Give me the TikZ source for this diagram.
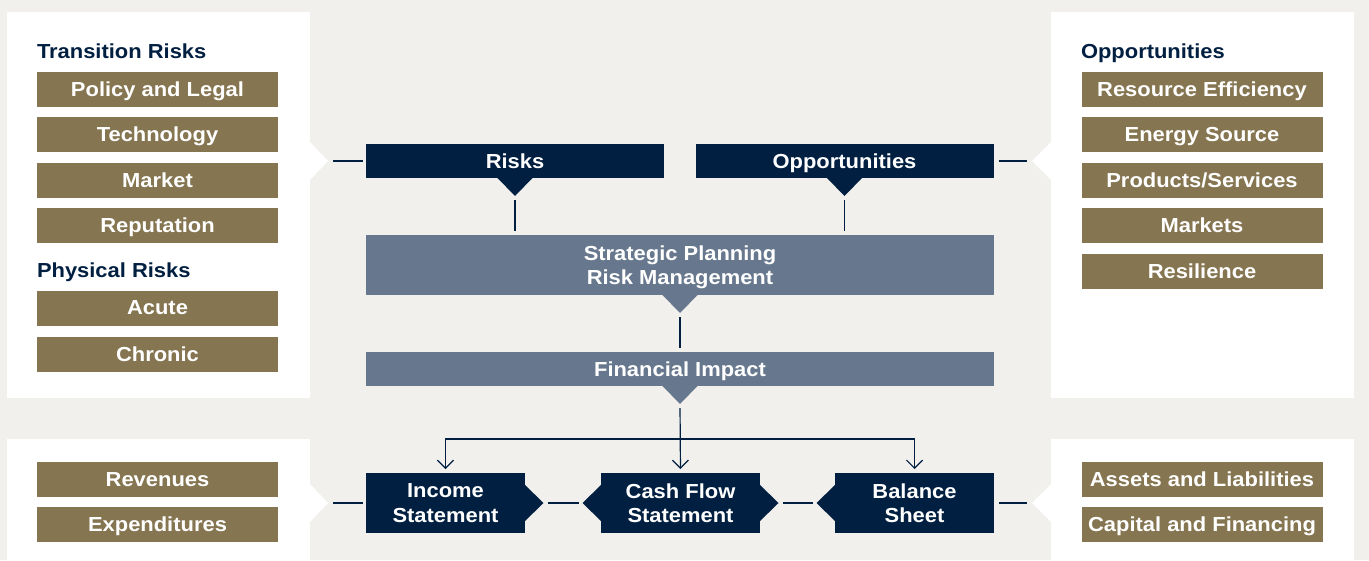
\documentclass[tikz,border=0pt]{standalone}
\usepackage{fontspec}
\newfontfamily\lblfont[FakeStretch=1.08]{Liberation Sans}
\usetikzlibrary{arrows.meta,calc}
\definecolor{paper}{HTML}{F1F0EC}
\definecolor{navy}{HTML}{001F41}
\definecolor{slate}{HTML}{67788E}
\definecolor{gold}{HTML}{857550}
\begin{document}
\begin{tikzpicture}[x=1pt,y=-1pt,
  every node/.style={inner sep=0pt, outer sep=0pt, text depth=0pt, align=center,
    font=\lblfont\bfseries\fontsize{20.3}{24.5}\selectfont},
  heading/.style={text=navy, anchor=base west},
  goldbox/.style={fill=gold, text=white, minimum width=241, minimum height=35},
  navybox/.style={fill=navy, text=white, minimum width=298, minimum height=34},
  slatebox/.style={fill=slate, text=white, minimum width=628},
  stmtbox/.style={fill=navy, text=white, minimum width=159, minimum height=60},
  conn/.style={draw=navy, line width=1.2},
  arr/.style={draw=navy, line width=1.2, -{Straight Barb[length=8pt,width=16pt]}},
]
% canvas and white panels
\fill[paper] (0,0) rectangle (1369,560);
\useasboundingbox (0,0) rectangle (1369,560);
\fill[white] (7,12) rectangle (310,398);
\fill[white] (310,142) -- (328,161) -- (310,180) -- cycle;
\fill[white] (1051,12) rectangle (1354,398);
\fill[white] (1051,142) -- (1032,161) -- (1051,180) -- cycle;
\fill[white] (7,439) rectangle (310,560);
\fill[white] (310,484) -- (328,503) -- (310,522) -- cycle;
\fill[white] (1051,439) rectangle (1354,560);
\fill[white] (1051,484) -- (1032,503) -- (1051,522) -- cycle;
\coordinate (tlTip) at (328,161);
\coordinate (trTip) at (1032,161);
\coordinate (blTip) at (328,503);
\coordinate (brTip) at (1032,503);

% left column: risk categories
\node[heading] (transHead) at (37,58) {Transition Risks};
\node[goldbox] (policy) at (157.5,89) {Policy and Legal};
\node[goldbox] (tech) at (157.5,134) {Technology};
\node[goldbox] (market) at (157.5,180) {Market};
\node[goldbox] (reput) at (157.5,225) {Reputation};
\node[heading] (physHead) at (37,277) {Physical Risks};
\node[goldbox] (acute) at (157.5,308) {Acute};
\node[goldbox] (chronic) at (157.5,354) {Chronic};

% right column: opportunity categories
\node[heading] (oppHead) at (1081,58) {Opportunities};
\node[goldbox] (resource) at (1202,89) {Resource Efficiency};
\node[goldbox] (energy) at (1202,134) {Energy Source};
\node[goldbox] (products) at (1202,180) {Products/Services};
\node[goldbox] (markets) at (1202,225) {Markets};
\node[goldbox] (resil) at (1202,271) {Resilience};

% bottom columns
\node[goldbox] (revenues) at (157.5,479.5) {Revenues};
\node[goldbox] (expend) at (157.5,524.5) {Expenditures};
\node[goldbox] (assets) at (1202,479.5) {Assets and Liabilities};
\node[goldbox] (capital) at (1202,524.5) {Capital and Financing};

% central flow
\node[navybox] (risks) at (515,161) {Risks};
\node[navybox] (opps) at (844.5,161) {Opportunities};
\node[slatebox, minimum height=60] (strat) at (680,265) {Strategic Planning\\Risk Management};
\node[slatebox, minimum height=34] (fin) at (680,369) {Financial Impact};
\node[stmtbox] (income) at (445.5,503) {Income\\Statement};
\node[stmtbox] (cash) at (680.5,503) {Cash Flow\\Statement};
\node[stmtbox] (balance) at (914.5,503) {Balance\\Sheet};

% pointers
\fill[navy] ($(risks.south)+(-18,-0.5)$) -- ($(risks.south)+(18,-0.5)$) -- ($(risks.south)+(0,18)$) -- cycle;
\fill[navy] ($(opps.south)+(-18,-0.5)$) -- ($(opps.south)+(18,-0.5)$) -- ($(opps.south)+(0,18)$) -- cycle;
\fill[slate] ($(strat.south)+(-18,-0.5)$) -- ($(strat.south)+(18,-0.5)$) -- ($(strat.south)+(0,18)$) -- cycle;
\fill[slate] ($(fin.south)+(-18,-0.5)$) -- ($(fin.south)+(18,-0.5)$) -- ($(fin.south)+(0,18)$) -- cycle;
\fill[navy] ($(income.east)+(-0.5,-18.5)$) -- ($(income.east)+(18.5,0)$) -- ($(income.east)+(-0.5,18.5)$) -- cycle;
\fill[navy] ($(cash.west)+(0.5,-18.5)$) -- ($(cash.west)+(-18.5,0)$) -- ($(cash.west)+(0.5,18.5)$) -- cycle;
\fill[navy] ($(cash.east)+(-0.5,-18.5)$) -- ($(cash.east)+(18.5,0)$) -- ($(cash.east)+(-0.5,18.5)$) -- cycle;
\fill[navy] ($(balance.west)+(0.5,-18.5)$) -- ($(balance.west)+(-18.5,0)$) -- ($(balance.west)+(0.5,18.5)$) -- cycle;

\coordinate (risksTip) at ($(risks.south)+(0,18)$);
\coordinate (oppsTip) at ($(opps.south)+(0,18)$);
\coordinate (stratTip) at ($(strat.south)+(0,18)$);
\coordinate (finTip) at ($(fin.south)+(0,18)$);
\coordinate (incomeTip) at ($(income.east)+(18.5,0)$);
\coordinate (cashTipL) at ($(cash.west)+(-18.5,0)$);
\coordinate (cashTipR) at ($(cash.east)+(18.5,0)$);
\coordinate (balanceTip) at ($(balance.west)+(-18.5,0)$);
\coordinate (split) at (680,439);

% connectors
\draw[conn, shorten <=5pt, shorten >=3pt] (tlTip) -- (risks.west);
\draw[conn, shorten <=5pt, shorten >=5pt] (opps.east) -- (trTip);
\draw[conn, shorten <=4pt, shorten >=4pt] (risksTip) -- (risks.south |- strat.north);
\draw[conn, shorten <=4pt, shorten >=4pt] (oppsTip) -- (opps.south |- strat.north);
\draw[conn, shorten <=4pt, shorten >=4pt] (stratTip) -- (fin.north);
\draw[arr, shorten <=4pt, shorten >=4pt] (finTip) -- (cash.north);
\draw[arr, shorten >=4pt] (split) -| (income.north);
\draw[arr, shorten >=4pt] (split) -| (balance.north);
\draw[conn, shorten <=5pt, shorten >=3pt] (blTip) -- (income.west);
\draw[conn, shorten <=4pt, shorten >=4pt] (incomeTip) -- (cashTipL);
\draw[conn, shorten <=4pt, shorten >=4pt] (cashTipR) -- (balanceTip);
\draw[conn, shorten <=5pt, shorten >=5pt] (balance.east) -- (brTip);
\end{tikzpicture}
\end{document}
